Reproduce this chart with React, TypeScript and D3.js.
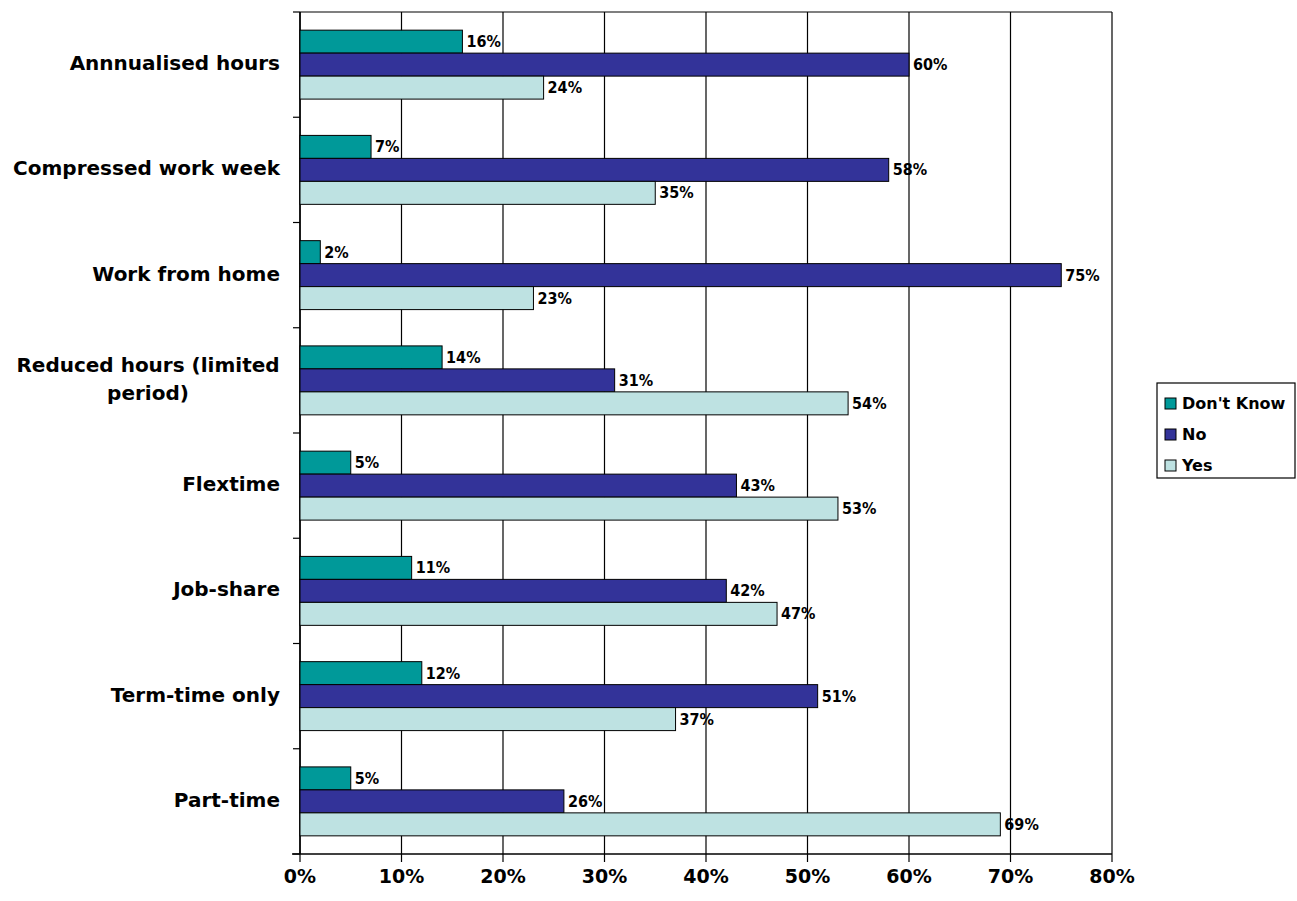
import React from "react";
import * as d3 from "d3";

const categories = [
  ["Annnualised hours"],
  ["Compressed work week"],
  ["Work from home"],
  ["Reduced hours (limited", "period)"],
  ["Flextime"],
  ["Job-share"],
  ["Term-time only"],
  ["Part-time"],
];
const dontKnow = [16, 7, 2, 14, 5, 11, 12, 5];
const no = [60, 58, 75, 31, 43, 42, 51, 26];
const yes = [24, 35, 23, 54, 53, 47, 37, 69];
const seriesNames = ["Don't Know", "No", "Yes"];
const seriesColors = ["#009999", "#333399", "#BEE2E2"];
const xTicks = [0, 10, 20, 30, 40, 50, 60, 70, 80];

export default function App() {
  const W = 1297, H = 901;
  const left = 300, right = 1112, top = 12, bottom = 854;
  const x = d3.scaleLinear().domain([0, 80]).range([left, right]);
  const y = d3.scaleBand<number>().domain(d3.range(categories.length)).range([top, bottom]).paddingInner(0).paddingOuter(0);
  const inner = d3.scaleBand<number>().domain([0, 1, 2]).range([0, y.bandwidth()]).paddingOuter(0.79).paddingInner(0);
  const series = [dontKnow, no, yes];
  const font = "'DejaVu Sans', sans-serif";
  return (
    <svg width={W} height={H} style={{ position: "absolute", left: 0, top: 0, background: "#fff" }}>
      {xTicks.map((t) => (
        <line key={"g" + t} x1={x(t)} x2={x(t)} y1={top} y2={bottom + 8} stroke="#000" strokeWidth={1.2} />
      ))}
      <line x1={left} x2={right} y1={top} y2={top} stroke="#000" strokeWidth={1.2} />
      <line x1={left - 8} x2={right} y1={bottom} y2={bottom} stroke="#000" strokeWidth={1.5} />
      <line x1={left} x2={left} y1={top} y2={bottom} stroke="#000" strokeWidth={1.5} />
      {d3.range(categories.length + 1).map((i) => (
        <line key={"yt" + i} x1={left - 7} x2={left} y1={top + i * y.step()} y2={top + i * y.step()} stroke="#000" strokeWidth={1.2} />
      ))}
      {categories.map((c, i) =>
        series.map((s, k) => {
          const by = (y(i) as number) + (inner(k) as number);
          const bh = inner.bandwidth();
          return (
            <g key={i + "-" + k}>
              <rect x={x(0)} y={by} width={x(s[i]) - x(0)} height={bh} fill={seriesColors[k]} stroke="#000" strokeWidth={1} />
              <text x={x(s[i]) + 4} y={by + bh / 2 + 1} dominantBaseline="middle" fontFamily="'DejaVu Sans Condensed', 'DejaVu Sans', sans-serif" fontWeight="bold" fontSize={16} fill="#000">
                {s[i]}%
              </text>
            </g>
          );
        })
      )}
      {categories.map((c, i) => {
        const cy = (y(i) as number) + y.bandwidth() / 2;
        const lh = 28;
        return (
          <text key={"c" + i} fontFamily={font} fontWeight="bold" fontSize={20} fill="#000">
            {c.map((line, j) => (
              <tspan key={j} x={c.length > 1 ? 148 : 280} textAnchor={c.length > 1 ? "middle" : "end"} y={cy + (j - (c.length - 1) / 2) * lh} dominantBaseline="middle">
                {line}
              </tspan>
            ))}
          </text>
        );
      })}
      {xTicks.map((t) => (
        <text key={"xt" + t} x={x(t)} y={877} textAnchor="middle" dominantBaseline="middle" fontFamily={font} fontWeight="bold" fontSize={19} fill="#000">
          {t}%
        </text>
      ))}
      <rect x={1157} y={383} width={138} height={95} fill="#fff" stroke="#000" strokeWidth={1.2} />
      {seriesNames.map((n, k) => (
        <g key={"l" + k}>
          <rect x={1165} y={398 + k * 31} width={11} height={11} fill={seriesColors[k]} stroke="#000" strokeWidth={1} />
          <text x={1182} y={404 + k * 31} dominantBaseline="middle" fontFamily={font} fontWeight="bold" fontSize={16} fill="#000">
            {n}
          </text>
        </g>
      ))}
    </svg>
  );
}
